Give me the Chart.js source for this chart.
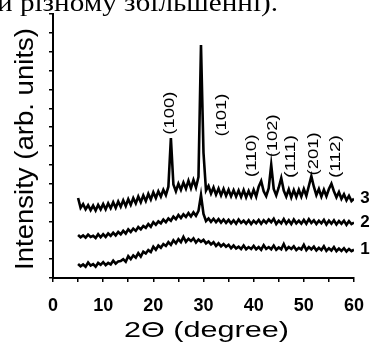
<!DOCTYPE html>
<html>
<head>
<meta charset="utf-8">
<script src="https://cdn.jsdelivr.net/npm/chart.js@4"></script>
<style>
  html, body { margin: 0; padding: 0; background: #fff; }
  #xrd-chart { display: block; }
</style>
</head>
<body>
<canvas id="xrd-chart" width="377" height="347"></canvas>
<script>
// 2-theta angles (degree), shared by all three patterns
const angles = [
    5, 5.5, 6, 6.5, 7, 7.5, 8, 8.5, 9, 9.5,
    10, 10.5, 11, 11.5, 12, 12.5, 13, 13.5, 14, 14.5,
    15, 15.5, 16, 16.5, 17, 17.5, 18, 18.5, 19, 19.5,
    20, 20.5, 21, 21.5, 22, 22.5, 23, 23.5, 24, 24.5,
    25, 25.5, 26, 26.5, 27, 27.5, 28, 28.5, 29, 29.5,
    30, 30.5, 31, 31.5, 32, 32.5, 33, 33.5, 34, 34.5,
    35, 35.5, 36, 36.5, 37, 37.5, 38, 38.5, 39, 39.5,
    40, 40.5, 41, 41.5, 42, 42.5, 43, 43.5, 44, 44.5,
    45, 45.5, 46, 46.5, 47, 47.5, 48, 48.5, 49, 49.5,
    50, 50.5, 51, 51.5, 52, 52.5, 53, 53.5, 54, 54.5,
    55, 55.5, 56, 56.5, 57, 57.5, 58, 58.5, 59, 59.5,
    60
];

// Pattern 1 (bottom)
const pattern1 = [
    0.37, 0.31, 0.36, 0.30, 0.41, 0.33, 0.37, 0.30, 0.40, 0.35,
    0.42, 0.34, 0.40, 0.36, 0.46, 0.38, 0.44, 0.45, 0.50, 0.43,
    0.58, 0.50, 0.60, 0.54, 0.66, 0.57, 0.70, 0.65, 0.74, 0.69,
    0.83, 0.75, 0.86, 0.80, 0.90, 0.85, 0.95, 0.88, 1.00, 0.92,
    1.03, 0.95, 1.09, 0.96, 1.04, 0.98, 1.05, 0.94, 1.02, 0.96,
    1.01, 0.92, 0.97, 0.89, 0.95, 0.85, 0.92, 0.84, 0.90, 0.83,
    0.88, 0.79, 0.86, 0.78, 0.83, 0.77, 0.86, 0.76, 0.82, 0.77,
    0.85, 0.76, 0.82, 0.75, 0.87, 0.77, 0.82, 0.76, 0.86, 0.75,
    0.81, 0.76, 0.90, 0.75, 0.82, 0.77, 0.84, 0.74, 0.80, 0.76,
    0.88, 0.74, 0.82, 0.76, 0.83, 0.73, 0.80, 0.74, 0.84, 0.72,
    0.79, 0.73, 0.82, 0.71, 0.78, 0.72, 0.79, 0.70, 0.77, 0.71,
    0.75
];

// Pattern 2 (middle)
const pattern2 = [
    1.14, 1.08, 1.13, 1.07, 1.15, 1.09, 1.12, 1.06, 1.16, 1.08,
    1.16, 1.09, 1.18, 1.12, 1.20, 1.13, 1.22, 1.16, 1.25, 1.18,
    1.29, 1.22, 1.31, 1.25, 1.35, 1.29, 1.38, 1.33, 1.43, 1.36,
    1.48, 1.41, 1.50, 1.45, 1.55, 1.48, 1.58, 1.52, 1.63, 1.56,
    1.67, 1.59, 1.69, 1.62, 1.72, 1.63, 1.74, 1.65, 1.78, 2.20,
    1.70, 1.51, 1.58, 1.49, 1.57, 1.48, 1.56, 1.47, 1.55, 1.46,
    1.54, 1.45, 1.53, 1.44, 1.55, 1.46, 1.52, 1.44, 1.53, 1.43,
    1.52, 1.45, 1.54, 1.44, 1.53, 1.46, 1.55, 1.48, 1.57, 1.43,
    1.52, 1.45, 1.56, 1.44, 1.53, 1.43, 1.55, 1.45, 1.52, 1.44,
    1.54, 1.44, 1.56, 1.46, 1.53, 1.43, 1.52, 1.45, 1.54, 1.42,
    1.52, 1.44, 1.53, 1.42, 1.51, 1.44, 1.52, 1.41, 1.51, 1.43,
    1.47
];

// Pattern 3 (top)
const pattern3 = [
    2.12, 1.86, 1.96, 1.82, 1.93, 1.80, 1.92, 1.79, 1.94, 1.82,
    1.96, 1.82, 1.98, 1.85, 2.01, 1.86, 2.03, 1.89, 2.06, 1.91,
    2.09, 1.94, 2.12, 1.98, 2.16, 2.01, 2.19, 2.04, 2.23, 2.08,
    2.27, 2.12, 2.30, 2.16, 2.34, 2.20, 2.42, 3.71, 2.48, 2.30,
    2.50, 2.34, 2.53, 2.37, 2.58, 2.38, 2.60, 2.40, 2.68, 6.18,
    3.32, 2.32, 2.44, 2.24, 2.40, 2.21, 2.37, 2.19, 2.36, 2.18,
    2.34, 2.17, 2.33, 2.16, 2.32, 2.15, 2.33, 2.14, 2.31, 2.15,
    2.34, 2.16, 2.42, 2.57, 2.30, 2.17, 2.38, 3.00, 2.36, 2.19,
    2.40, 2.65, 2.32, 2.16, 2.35, 2.14, 2.33, 2.15, 2.34, 2.16,
    2.36, 2.18, 2.44, 2.70, 2.42, 2.20, 2.36, 2.16, 2.34, 2.17,
    2.36, 2.50, 2.30, 2.14, 2.28, 2.10, 2.22, 2.06, 2.18, 2.04,
    2.10
];

const seriesNames = ['1', '2', '3'];

// Miller indices written over the peaks, and where they sit (angle, intensity)
const peakLabels = ['(100)', '(101)', '(110)', '(102)', '(111)', '(201)', '(112)'];
const peakLabelAngles = [23.35, 33.6, 39.6, 43.9, 47.4, 52.0, 56.3];
const peakLabelLevels = [4.37, 4.32, 3.24, 3.77, 3.22, 3.29, 3.22];

const SANS = 'Arial, "Liberation Sans", sans-serif';

// Draw a string squeezed/stretched to a given length
function fitText(ctx, text, x, y, length, angle) {
    ctx.save();
    ctx.translate(x, y);
    ctx.rotate(angle);
    const w = ctx.measureText(text).width;
    ctx.scale(length / w, 1);
    ctx.fillText(text, 0, 0);
    ctx.restore();
}

const textPlugin = {
    id: 'xrdText',
    afterDraw(chart) {
        const ctx = chart.ctx;
        const xs = chart.scales.x;
        const ys = chart.scales.y;
        const area = chart.chartArea;
        ctx.save();
        ctx.fillStyle = '#000';

        // cropped caption line from the page above the figure
        ctx.font = '26px "Liberation Serif", "Times New Roman", serif';
        ctx.textAlign = 'left';
        ctx.textBaseline = 'alphabetic';
        const cap = 'и різному збільшенні).';
        ctx.save();
        ctx.translate(-3, 11);
        ctx.scale(281 / ctx.measureText(cap).width, 1);
        ctx.fillText(cap, 0, 0);
        ctx.restore();

        // axis titles
        ctx.textAlign = 'center';
        ctx.font = '22px ' + SANS;
        fitText(ctx, '2\u0398 (degree)', (area.left + area.right) / 2 + 3, 337, 165, 0);
        ctx.font = '25px ' + SANS;
        fitText(ctx, 'Intensity (arb. units)', 33, (area.top + area.bottom) / 2 + 3, 242, -Math.PI / 2);

        // peak labels
        ctx.font = '15px ' + SANS;
        ctx.textBaseline = 'middle';
        peakLabels.forEach((label, i) => {
            fitText(ctx, label, xs.getPixelForValue(peakLabelAngles[i]),
                ys.getPixelForValue(peakLabelLevels[i]), 43, -Math.PI / 2);
        });

        // curve numbers at the right end of each pattern
        ctx.font = 'bold 17px ' + SANS;
        chart.data.datasets.forEach((ds, i) => {
            const last = ds.data[ds.data.length - 1];
            ctx.fillText(seriesNames[i], xs.getPixelForValue(last.x) + 11, ys.getPixelForValue(last.y));
        });
        ctx.restore();
    }
};

const toPoints = values => values.map((v, i) => ({ x: angles[i], y: v }));

const lineStyle = {
    borderColor: '#000',
    borderWidth: 2.6,
    borderJoinStyle: 'miter',
    pointRadius: 0,
    tension: 0,
    fill: false
};

new Chart(document.getElementById('xrd-chart'), {
    type: 'line',
    data: {
        datasets: [
            { label: seriesNames[0], data: toPoints(pattern1), ...lineStyle },
            { label: seriesNames[1], data: toPoints(pattern2), ...lineStyle },
            { label: seriesNames[2], data: toPoints(pattern3), ...lineStyle }
        ]
    },
    options: {
        responsive: false,
        animation: false,
        devicePixelRatio: 1,
        layout: { padding: { left: 0, right: 20, top: 14, bottom: 0 } },
        plugins: {
            legend: { display: false },
            tooltip: { enabled: false }
        },
        scales: {
            x: {
                type: 'linear',
                min: 0,
                max: 60,
                afterFit: scale => { scale.height = 69; },
                border: { display: true, color: '#000', width: 2 },
                grid: { drawOnChartArea: false, drawTicks: true, tickLength: 4, color: '#000', lineWidth: 1.5 },
                ticks: {
                    stepSize: 5,
                    autoSkip: false,
                    maxRotation: 0,
                    padding: 13,
                    color: '#000',
                    font: { family: SANS, size: 18, weight: 'bold' },
                    callback: value => (value % 10 === 0 ? value : '')
                }
            },
            y: {
                type: 'linear',
                min: 0,
                max: 7,
                afterFit: scale => { scale.width = 53; },
                border: { display: true, color: '#000', width: 2 },
                grid: { drawOnChartArea: false, drawTicks: true, tickLength: 4, color: '#000', lineWidth: 1.5 },
                ticks: {
                    stepSize: 0.5,
                    autoSkip: false,
                    callback: () => ''
                }
            }
        }
    },
    plugins: [textPlugin]
});
</script>
</body>
</html>
